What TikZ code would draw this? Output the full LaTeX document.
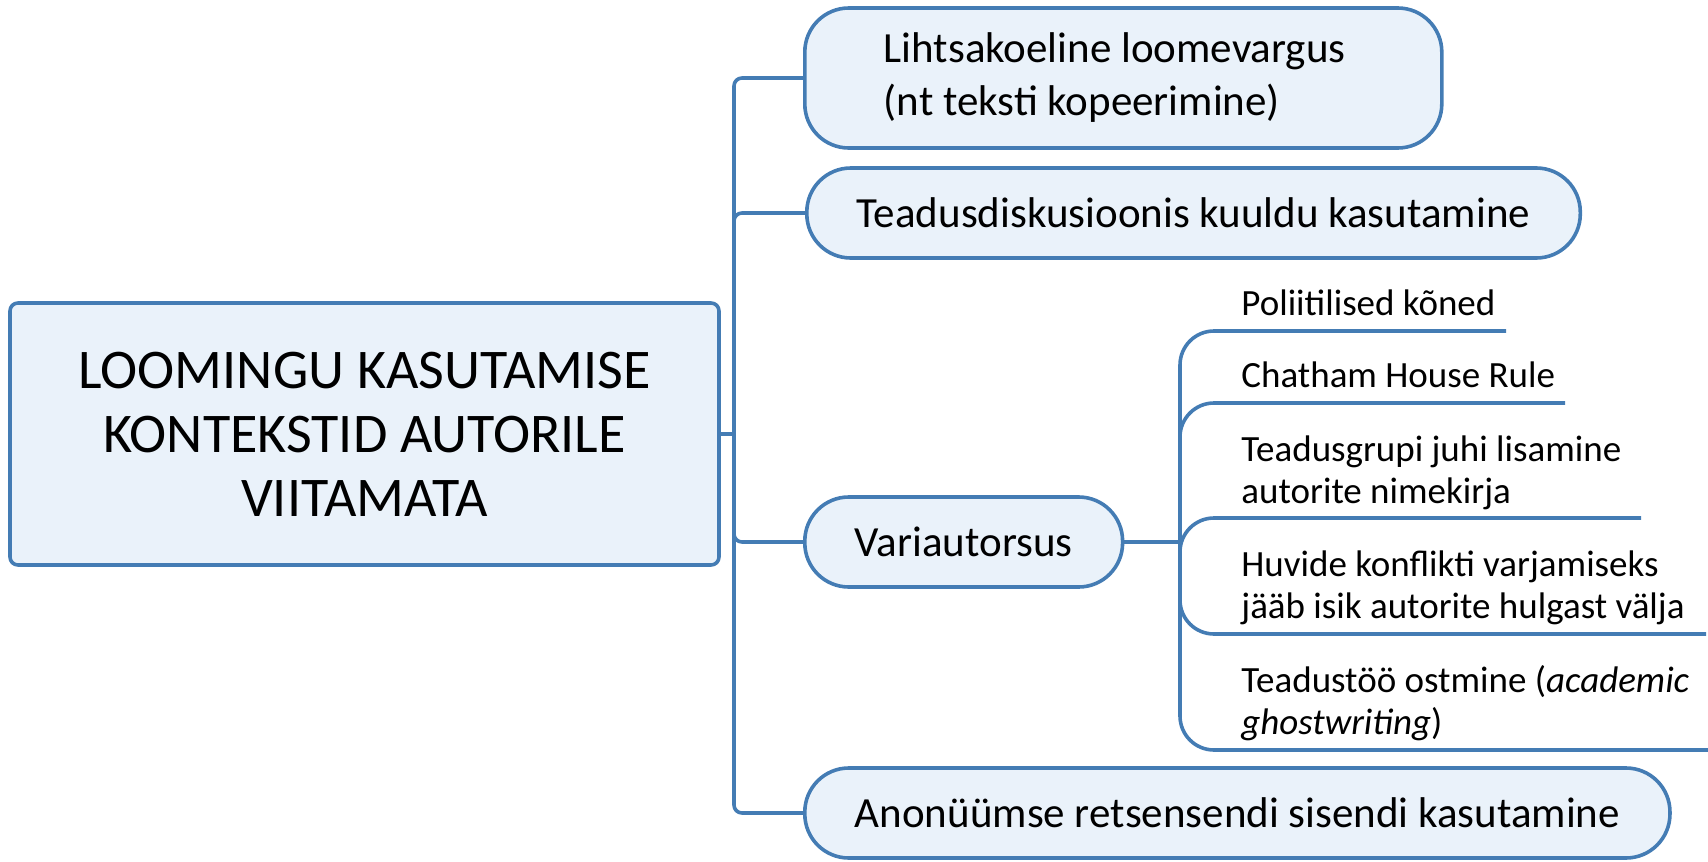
\documentclass[tikz,border=0pt]{standalone}
\usepackage{fontspec}
\setmainfont{Carlito}
\usepackage{xcolor}
\usetikzlibrary{positioning, calc}

\definecolor{mapline}{RGB}{68,124,180}
\definecolor{mapfill}{RGB}{234,242,250}

\begin{document}
\begin{tikzpicture}[x=0.5pt, y=-0.5pt,
				RootNode/.style={rectangle, draw=mapline, fill=mapfill, line width=1.8pt, rounded corners=4pt, minimum width=354.5pt, minimum height=131pt, align=center, font=\fontsize{28}{32}\selectfont},
				TopicNode/.style={rectangle, draw=mapline, fill=mapfill, line width=1.8pt, rounded corners=22pt, minimum height=45pt, inner xsep=25pt, align=left, anchor=west, font=\fontsize{21.5}{26.5}\selectfont},
				LeafNode/.style={inner sep=0pt, align=left, anchor=base west, font=\fontsize{18.5}{21}\selectfont},
				Branch/.style={draw=mapline, line width=1.8pt, rounded corners=4pt},
				SubBranch/.style={draw=mapline, line width=1.8pt, rounded corners=17pt}]

			\useasboundingbox (0,0) rectangle (1708,862);

			\node[RootNode] (Root) at (364.5,434) {LOOMINGU KASUTAMISE\\KONTEKSTID AUTORILE\\VIITAMATA};

			\node[TopicNode, minimum height=70pt, inner xsep=39.5pt, text width=239.5pt, align=flush left] (Copy) at (803,78) {Lihtsakoeline loomevargus\\(nt teksti kopeerimine)};
			\node[TopicNode] (Talk) at (805,213) {Teadusdiskusioonis kuuldu kasutamine};
			\node[TopicNode] (Coauth) at (803,542) {Variautorsus};
			\node[TopicNode] (Review) at (803,813) {Anonüümse retsensendi sisendi kasutamine};

			\coordinate (Hub) at (734,434);
			\draw[Branch] (Root.east) -- (Hub);
			\draw[Branch] (Hub) |- (Copy.west);
			\draw[Branch] (Hub) |- (Talk.west);
			\draw[Branch] (Hub) |- (Coauth.west);
			\draw[Branch] (Hub) |- (Review.west);

			% Variautorsus
			\coordinate (SubHub) at (1180,542);
			\draw[Branch] (Coauth.east) -- (SubHub);

			\node[LeafNode] (Speech) at (1241,315) {Poliitilised kõned};
			\node[LeafNode] (Chatham) at (1241,387) {Chatham House Rule};
			\node[LeafNode] (Leader) at (1241,503) {Teadusgrupi juhi lisamine\\autorite nimekirja};
			\node[LeafNode] (Hidden) at (1241,618) {Huvide konflikti varjamiseks\\jääb isik autorite hulgast välja};
			\node[LeafNode] (Ghost) at (1241,734) {Teadustöö ostmine (\textit{academic}\\\textit{ghostwriting})};

			\coordinate (SpeechEnd) at (1506,331);
			\coordinate (ChathamEnd) at (1565,403);
			\coordinate (LeaderEnd) at (1641,518);
			\coordinate (HiddenEnd) at (1706,634);
			\coordinate (GhostEnd) at (1708,750);

			\foreach \e in {SpeechEnd, ChathamEnd, LeaderEnd, HiddenEnd, GhostEnd}
				\draw[SubBranch] (SubHub) |- (\e);
		\end{tikzpicture}
\end{document}
